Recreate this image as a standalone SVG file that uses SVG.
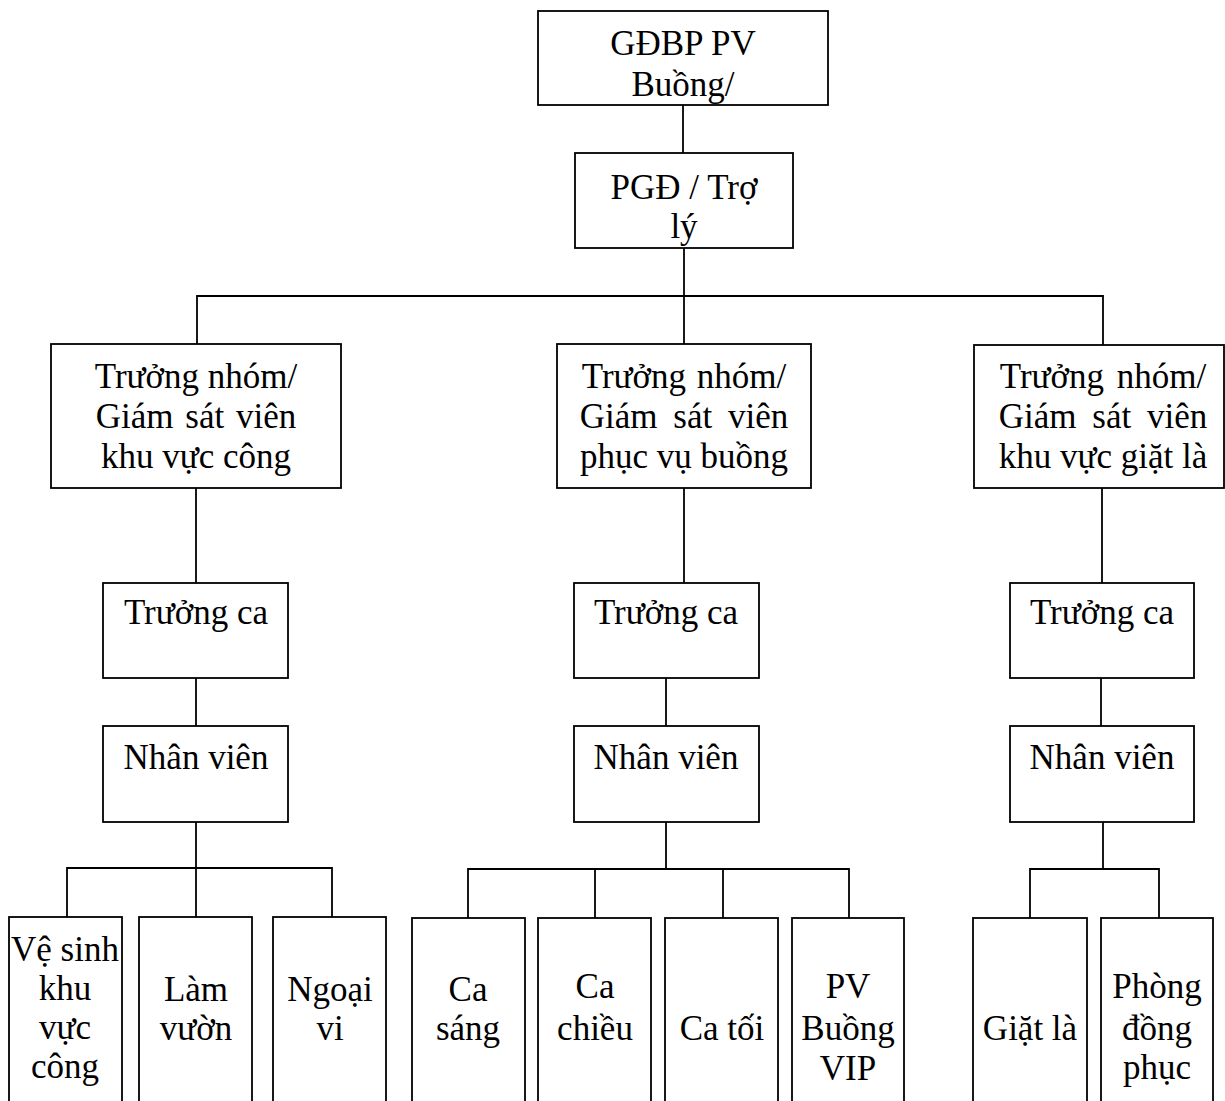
<svg xmlns="http://www.w3.org/2000/svg" width="1225" height="1101" viewBox="0 0 1225 1101">
<style>
.b{fill:#fff;stroke:#000;stroke-width:1.8}
line,path{stroke:#000;stroke-width:1.8;fill:none}
text{font-family:"Liberation Serif","Times New Roman",serif;font-size:35px;fill:#000;text-anchor:middle}
</style>
<rect width="1225" height="1101" fill="#fff"/>
<g id="connectors">
<line x1="683" y1="105" x2="683" y2="153"/>
<line x1="684" y1="248" x2="684" y2="344"/>
<path d="M197 344V296H1103V345"/>
<line x1="196" y1="488" x2="196" y2="583"/>
<line x1="684" y1="488" x2="684" y2="583"/>
<line x1="1102" y1="488" x2="1102" y2="583"/>
<line x1="196" y1="678" x2="196" y2="726"/>
<line x1="666" y1="678" x2="666" y2="726"/>
<line x1="1101" y1="678" x2="1101" y2="726"/>
<line x1="196" y1="822" x2="196" y2="917"/>
<path d="M67 917V868H332V917"/>
<line x1="666" y1="822" x2="666" y2="869"/>
<path d="M468 918V869H849V918"/>
<line x1="595" y1="869" x2="595" y2="918"/>
<line x1="723" y1="869" x2="723" y2="918"/>
<line x1="1103" y1="822" x2="1103" y2="869"/>
<path d="M1030 918V869H1159V918"/>
</g>
<g id="n-gdbp"><rect class="b" x="538" y="11" width="290" height="94"/><text x="683" y="55">GĐBP PV</text><text x="683" y="96">Buồng/</text></g>
<g id="n-pgd"><rect class="b" x="575" y="153" width="218" height="95"/><text x="684" y="199">PGĐ / Trợ</text><text x="684" y="238">lý</text></g>
<g id="n-ts1"><rect class="b" x="51" y="344" width="290" height="144"/><text x="196" y="388">Trưởng nhóm/</text><text x="196" y="428" style="word-spacing:3px">Giám sát viên</text><text x="196" y="468">khu vực công</text></g>
<g id="n-ts2"><rect class="b" x="557" y="344" width="254" height="144"/><text x="684" y="388" style="word-spacing:2px">Trưởng nhóm/</text><text x="684" y="428" style="word-spacing:7px">Giám sát viên</text><text x="684" y="468">phục vụ buồng</text></g>
<g id="n-ts3"><rect class="b" x="974" y="345" width="250" height="143"/><text x="1103" y="388" style="word-spacing:4px">Trưởng nhóm/</text><text x="1103" y="428" style="word-spacing:7px">Giám sát viên</text><text x="1103" y="468">khu vực giặt là</text></g>
<g id="n-tc1"><rect class="b" x="103" y="583" width="185" height="95"/><text x="196" y="624">Trưởng ca</text></g>
<g id="n-tc2"><rect class="b" x="574" y="583" width="185" height="95"/><text x="666" y="624">Trưởng ca</text></g>
<g id="n-tc3"><rect class="b" x="1010" y="583" width="184" height="95"/><text x="1102" y="624">Trưởng ca</text></g>
<g id="n-nv1"><rect class="b" x="103" y="726" width="185" height="96"/><text x="196" y="769">Nhân viên</text></g>
<g id="n-nv2"><rect class="b" x="574" y="726" width="185" height="96"/><text x="666" y="769">Nhân viên</text></g>
<g id="n-nv3"><rect class="b" x="1010" y="726" width="184" height="96"/><text x="1102" y="769">Nhân viên</text></g>
<g id="n-vs"><rect class="b" x="9" y="917" width="113" height="200"/><text x="65" y="961">Vệ sinh</text><text x="65" y="1000">khu</text><text x="65" y="1039">vực</text><text x="65" y="1078">công</text></g>
<g id="n-lv"><rect class="b" x="139" y="917" width="113" height="200"/><text x="196" y="1001">Làm</text><text x="196" y="1040">vườn</text></g>
<g id="n-nvi"><rect class="b" x="273" y="917" width="113" height="200"/><text x="330" y="1001">Ngoại</text><text x="330" y="1040">vi</text></g>
<g id="n-cs"><rect class="b" x="412" y="918" width="113" height="200"/><text x="468" y="1001">Ca</text><text x="468" y="1040">sáng</text></g>
<g id="n-cc"><rect class="b" x="538" y="918" width="113" height="200"/><text x="595" y="998">Ca</text><text x="595" y="1040">chiều</text></g>
<g id="n-ct"><rect class="b" x="665" y="918" width="113" height="200"/><text x="722" y="1040">Ca tối</text></g>
<g id="n-vip"><rect class="b" x="792" y="918" width="112" height="200"/><text x="848" y="998">PV</text><text x="848" y="1040">Buồng</text><text x="848" y="1080">VIP</text></g>
<g id="n-gl"><rect class="b" x="973" y="918" width="114" height="200"/><text x="1030" y="1040">Giặt là</text></g>
<g id="n-pdp"><rect class="b" x="1101" y="918" width="112" height="200"/><text x="1157" y="998">Phòng</text><text x="1157" y="1040">đồng</text><text x="1157" y="1079">phục</text></g>
</svg>
